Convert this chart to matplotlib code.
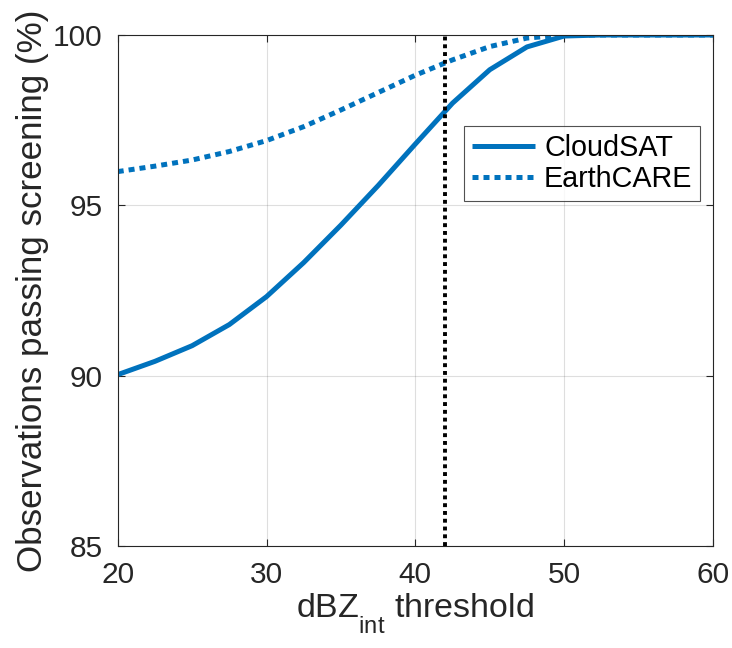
import numpy as np
import matplotlib
import matplotlib.pyplot as plt

plt.rcParams['font.family'] = ['Liberation Sans', 'DejaVu Sans']
plt.rcParams['mathtext.fontset'] = 'custom'
plt.rcParams['mathtext.rm'] = 'Liberation Sans'
plt.rcParams['mathtext.it'] = 'Liberation Sans'
# MATLAB puts subscripts lower than mathtext does
try:
    matplotlib._mathtext.FontConstantsBase.sub1 = 0.9
except AttributeError:
    pass

# dBZ_int threshold
thresholds = [20, 22.5, 25, 27.5, 30, 32.5, 35, 37.5, 40, 42.5, 45, 47.5, 50, 52.5, 55, 57.5, 60]
# observations passing screening (%)
cloudsat = [90.03, 90.42, 90.88, 91.50, 92.32, 93.32, 94.42, 95.58, 96.80, 98.00, 98.98, 99.65, 99.97, 100, 100, 100, 100]
earthcare = [95.99, 96.15, 96.33, 96.58, 96.90, 97.31, 97.80, 98.31, 98.82, 99.27, 99.66, 99.91, 100, 100, 100, 100, 100]
cutoff = 42

blue = '#0072BD'
axcol = '#262626'

fig = plt.figure(figsize=(7.32, 6.48), dpi=100)
ax = fig.add_axes([0.1608, 0.1574, 0.8132, 0.7886])

ax.plot(thresholds, cloudsat, color=blue, lw=3.6, label='CloudSAT', solid_capstyle='butt')
ax.plot(thresholds, earthcare, color=blue, lw=3.6, label='EarthCARE',
        dashes=(1.2, 1.0), dash_capstyle='butt')
ax.axvline(cutoff, color='black', lw=2.8, dashes=(1.0, 1.0), dash_capstyle='butt')

ax.set_xlim(20, 60)
ax.set_ylim(85, 100)
ax.set_xticks([20, 30, 40, 50, 60])
ax.set_yticks([85, 90, 95, 100])
ax.grid(True, color=axcol, alpha=0.15, lw=0.8)
ax.set_axisbelow(True)

for s in ax.spines.values():
    s.set_color(axcol)
    s.set_linewidth(0.8)
ax.tick_params(direction='in', length=5, width=0.8, colors=axcol, labelcolor='#262626',
               labelsize=21.5, top=True, right=True, pad=11)
ax.tick_params(axis='y', pad=11)

ax.set_xlabel(r'dBZ$_{\mathrm{int}}$ threshold', fontsize=24.5, color='#262626', labelpad=2)
ax.set_ylabel('Observations passing screening (%)', fontsize=25.2, color='#262626', labelpad=3)

leg = ax.legend(loc='upper right', bbox_to_anchor=(0.979, 0.8225), fontsize=20.7,
                frameon=True, fancybox=False, edgecolor=axcol, handlelength=2.2,
                borderpad=0.28, labelspacing=0.1, handletextpad=0.3, borderaxespad=0)
leg.get_frame().set_linewidth(0.8)

fig.savefig('out.png', dpi=100)
